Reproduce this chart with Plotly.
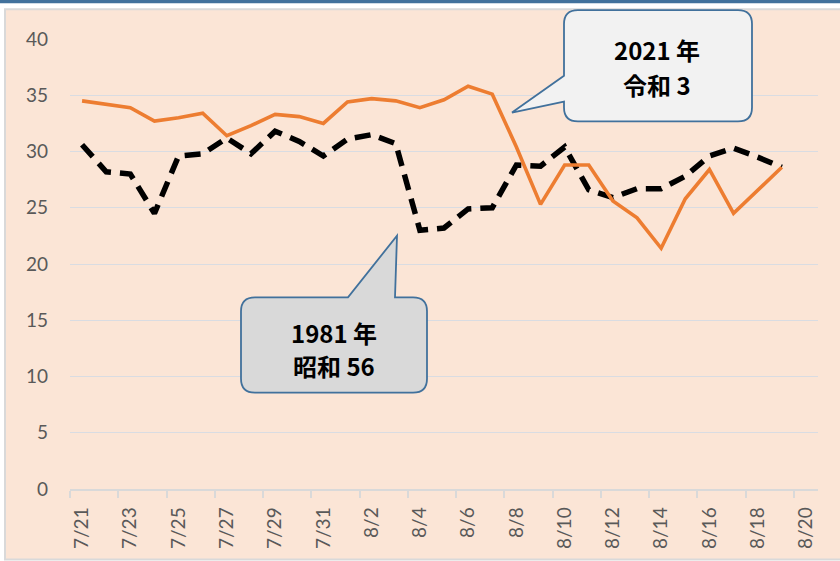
import plotly.graph_objects as go

# ---- data ----
dates = ["7/21", "7/22", "7/23", "7/24", "7/25", "7/26", "7/27", "7/28", "7/29", "7/30",
         "7/31", "8/1", "8/2", "8/3", "8/4", "8/5", "8/6", "8/7", "8/8", "8/9",
         "8/10", "8/11", "8/12", "8/13", "8/14", "8/15", "8/16", "8/17", "8/18", "8/19"]
axis_labels = dates + ["8/20"]

temp_2021 = [34.5, 34.2, 33.9, 32.7, 33.0, 33.4, 31.4, 32.3, 33.3, 33.1,
             32.5, 34.4, 34.7, 34.5, 33.9, 34.6, 35.8, 35.1, 30.4, 25.3,
             28.8, 28.8, 25.6, 24.1, 21.4, 25.8, 28.4, 24.5, 26.5, 28.6]
temp_1981 = [30.6, 28.2, 28.0, 24.5, 29.6, 29.8, 31.2, 29.8, 31.8, 30.9,
             29.6, 31.1, 31.5, 30.7, 23.0, 23.2, 24.9, 25.0, 28.8, 28.7,
             30.4, 26.6, 25.9, 26.7, 26.7, 27.8, 29.6, 30.3, 29.5, 28.6]

label_2021 = ["2021 年", "令和 3"]
label_1981 = ["1981 年", "昭和 56"]

# ---- layout geometry (pixels) ----
W, H = 840, 561
PL, PR, PT, PB = 70, 818, 39, 492


def px(X):
    return (X - PL) / (PR - PL)


def py(Y):
    return (PB - Y) / (PB - PT)


def P(X, Y):
    return f"{px(X):.5f},{py(Y):.5f}"


def callout_path(x0, y0, x1, y1, r, tail):
    """Rounded rect with a tail. tail = ('left', ya, yb, tipx, tipy) or ('top', xa, xb, tipx, tipy)"""
    d = f"M {P(x0 + r, y0)} "
    if tail[0] == "top":
        _, xa, xb, tx, ty = tail
        d += f"L {P(xa, y0)} L {P(tx, ty)} L {P(xb, y0)} "
    d += f"L {P(x1 - r, y0)} Q {P(x1, y0)} {P(x1, y0 + r)} "
    d += f"L {P(x1, y1 - r)} Q {P(x1, y1)} {P(x1 - r, y1)} "
    d += f"L {P(x0 + r, y1)} Q {P(x0, y1)} {P(x0, y1 - r)} "
    if tail[0] == "left":
        _, ya, yb, tx, ty = tail
        d += f"L {P(x0, yb)} L {P(tx, ty)} L {P(x0, ya)} "
    d += f"L {P(x0, y0 + r)} Q {P(x0, y0)} {P(x0 + r, y0)} Z"
    return d


fig = go.Figure()

fig.add_trace(go.Scatter(
    x=dates, y=temp_1981, mode="lines", name="1981",
    line=dict(color="#000000", width=5.5, dash="16px,9px"),
))
fig.add_trace(go.Scatter(
    x=dates, y=temp_2021, mode="lines", name="2021",
    line=dict(color="#ED7D31", width=3.6),
))

shapes = []
# outer peach chart area with gray border
shapes.append(dict(type="rect", xref="paper", yref="paper", layer="below",
                   x0=px(5), x1=px(842), y0=py(9), y1=py(563),
                   fillcolor="#FBE5D6", line=dict(color="#D9D9D9", width=2)))
# top blue bar
shapes.append(dict(type="rect", xref="paper", yref="paper", layer="below",
                   x0=px(-2), x1=px(842), y0=py(-2), y1=py(3),
                   fillcolor="#41719C", line=dict(width=0)))
# callouts
shapes.append(dict(type="path", xref="paper", yref="paper", layer="above",
                   path=callout_path(564, 10, 752, 122, 14, ("left", 76, 102, 512, 113)),
                   fillcolor="#F2F2F2", line=dict(color="#41719C", width=1.8)))
shapes.append(dict(type="path", xref="paper", yref="paper", layer="above",
                   path=callout_path(241, 299, 427, 395, 14, ("top", 348, 395, 397, 237)),
                   fillcolor="#D9D9D9", line=dict(color="#41719C", width=1.8)))

annotations = []
cfont = dict(family="Noto Sans CJK JP", size=24, color="#000000", weight="bold")
for i, t in enumerate(label_2021):
    annotations.append(dict(text=f"<b>{t}</b>", xref="paper", yref="paper",
                            x=px(657), y=py(50 + 35 * i), showarrow=False,
                            xanchor="center", yanchor="middle", font=cfont))
for i, t in enumerate(label_1981):
    annotations.append(dict(text=f"<b>{t}</b>", xref="paper", yref="paper",
                            x=px(334), y=py(334 + 34 * i), showarrow=False,
                            xanchor="center", yanchor="middle", font=cfont))

fig.update_layout(
    width=W, height=H,
    margin=dict(l=PL, r=W - PR, t=PT, b=H - PB, pad=0),
    paper_bgcolor="#FFFFFF",
    plot_bgcolor="rgba(0,0,0,0)",
    showlegend=False,
    shapes=shapes,
    annotations=annotations,
    font=dict(family="Lato", size=19, color="#595959"),
)
fig.update_xaxes(
    type="category", categoryorder="array", categoryarray=axis_labels,
    range=[-0.5, len(axis_labels) - 0.5],
    tickmode="linear", tick0=0, dtick=2,
    tickson="boundaries", ticks="outside", ticklen=7, tickcolor="#D9D9D9", tickwidth=1.5,
    tickangle=-90, showgrid=False, zeroline=False,
    showline=True, linecolor="#D9D9D9", linewidth=1.5,
    ticklabelstandoff=9,
    tickfont=dict(family="Lato", size=19, color="#595959"),
)
fig.update_yaxes(
    range=[0, 40], tickmode="linear", tick0=0, dtick=5,
    showgrid=True, gridcolor="#D9DCE2", gridwidth=1.2, zeroline=False,
    showline=False, ticks="", ticklabelstandoff=21,
    tickfont=dict(family="Lato", size=19, color="#595959"),
)

fig.write_html(
    "out.html",
    config={"displayModeBar": False},
    post_script="document.body.style.margin='0';document.body.style.overflow='hidden';",
)
